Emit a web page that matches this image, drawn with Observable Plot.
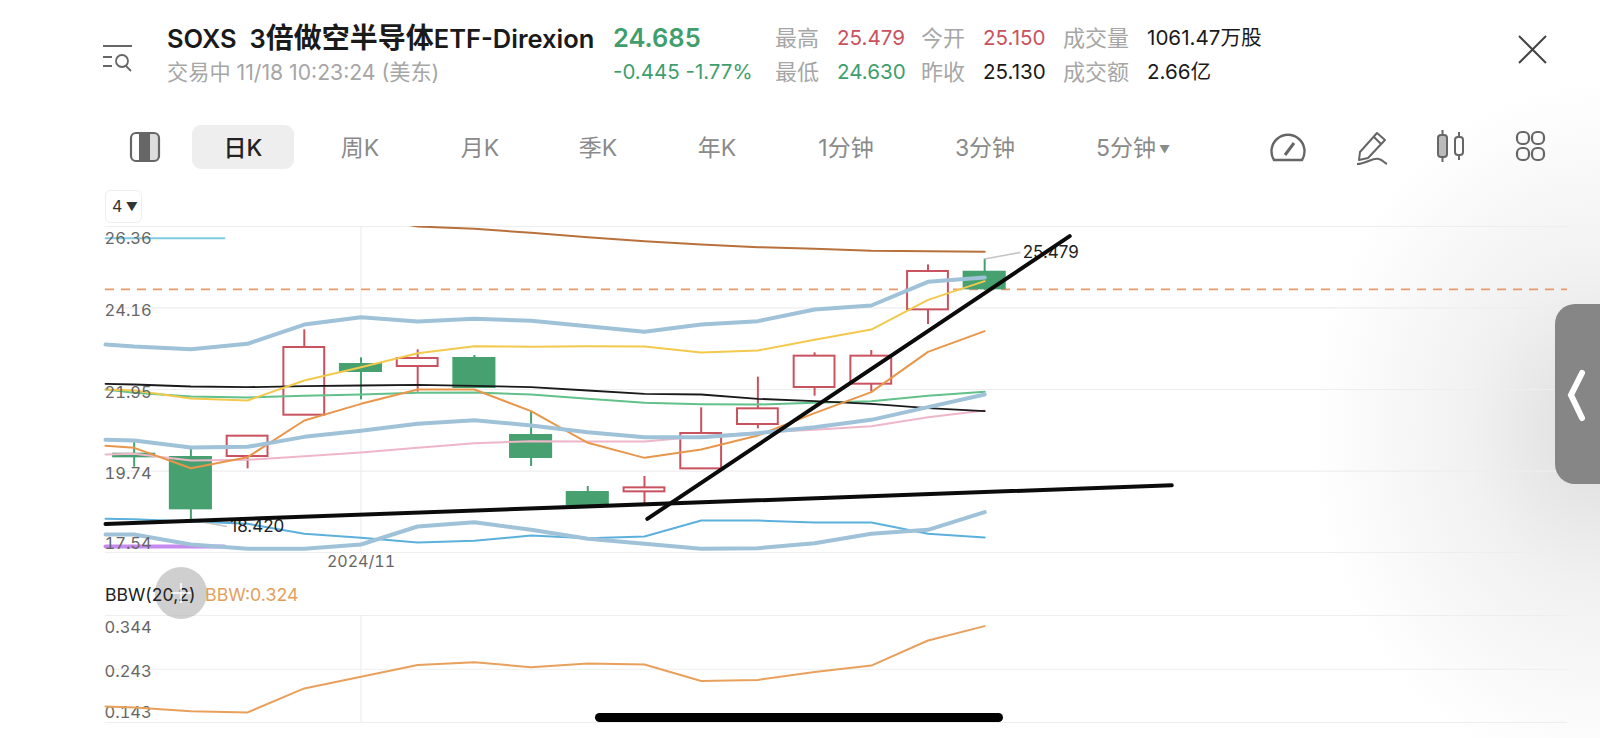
<!DOCTYPE html>
<html lang="zh">
<head>
<meta charset="utf-8">
<script src="https://cdn.jsdelivr.net/npm/d3@7"></script>
<script src="https://cdn.jsdelivr.net/npm/@observablehq/plot@0.6"></script>
<style>
html,body{margin:0;padding:0;background:#fff;width:1600px;height:738px;overflow:hidden;font-family:Inter,"Noto Sans CJK SC",sans-serif}
.t{position:absolute;white-space:pre;line-height:30px}
.g{color:#a6a6a6}.r{color:#c8525f}.n{color:#3f9e6e}.k{color:#1a1a1a}
.lab{font-size:22px}.num{font-size:20.6px}
.tab{position:absolute;top:133px;line-height:30px;font-size:23px;color:#8a8a8a;transform:translateX(-50%);white-space:pre}
svg.abs{position:absolute}
#shade{position:absolute;left:1250px;top:60px;width:350px;height:678px;background:radial-gradient(ellipse 290px 350px at 100% 370px,#dddddd 0%,#f1f1f1 45%,#ffffff 100%)}
#price,#bbw{position:absolute;left:0}
#price{top:200px}#bbw{top:600px}
</style>
</head>
<body>
<div id="shade"></div>

<div class="t k" style="left:167px;top:23px;font-size:25.5px;font-weight:600">SOXS  3<span style="font-size:28px">倍做空半导体</span>ETF-Direxion</div>
<div class="t n" style="left:613px;top:23px;font-size:25.5px;font-weight:600">24.685</div>
<div class="t g" style="left:167px;top:57px;font-size:21.2px">交易中 11/18 10:23:24 (美东)</div>
<div class="t n" style="left:613px;top:57px;font-size:20.5px">-0.445 -1.77%</div>

<div class="t g lab" style="left:775px;top:23px">最高</div>
<div class="t r num" style="left:837px;top:23px">25.479</div>
<div class="t g lab" style="left:921px;top:23px">今开</div>
<div class="t r num" style="left:983px;top:23px">25.150</div>
<div class="t g lab" style="left:1063px;top:23px">成交量</div>
<div class="t k num" style="left:1147px;top:23px">1061.47万股</div>
<div class="t g lab" style="left:775px;top:57px">最低</div>
<div class="t n num" style="left:837px;top:57px">24.630</div>
<div class="t g lab" style="left:921px;top:57px">昨收</div>
<div class="t k num" style="left:983px;top:57px">25.130</div>
<div class="t g lab" style="left:1063px;top:57px">成交额</div>
<div class="t k num" style="left:1147px;top:57px">2.66亿</div>

<div style="position:absolute;left:192px;top:125px;width:102px;height:44px;border-radius:9px;background:#eeeeee"></div>
<div class="tab" style="left:243px;color:#222;font-weight:500">日K</div>
<div class="tab" style="left:360px">周K</div>
<div class="tab" style="left:480px">月K</div>
<div class="tab" style="left:598px">季K</div>
<div class="tab" style="left:717px">年K</div>
<div class="tab" style="left:846px">1分钟</div>
<div class="tab" style="left:985px">3分钟</div>
<div class="tab" style="left:1133px">5分钟<span style="font-size:11px;vertical-align:3px"> ▼</span></div>

<svg class="abs" style="left:100px;top:40px" width="36" height="36" fill="none" stroke="#666" stroke-width="1.8"><path d="M3 6H32M3 17H12M3 26H12"/><circle cx="22" cy="21" r="6"/><path d="M26 26L31 31"/></svg>
<svg class="abs" style="left:128px;top:130px" width="36" height="36"><rect x="3" y="3" width="28" height="28" rx="5" fill="#fff"/><rect x="11" y="3" width="11" height="28" fill="#666"/><rect x="22" y="3" width="8" height="28" fill="#dddddd"/><rect x="3" y="3" width="28" height="28" rx="5" fill="none" stroke="#666" stroke-width="2.2"/></svg>
<svg class="abs" style="left:1514px;top:31px" width="40" height="40" fill="none" stroke="#444" stroke-width="2"><path d="M5 5L32 32M32 5L5 32"/></svg>
<svg class="abs" style="left:1268px;top:130px" width="40" height="34" fill="none" stroke="#666" stroke-width="2.4"><path d="M6 30a16.500 16.500 0 1 1 28 0Z" stroke-linejoin="round"/><path d="M17 25L26 13" stroke-width="3"/></svg>
<svg class="abs" style="left:1354px;top:128px" width="40" height="40" fill="none" stroke="#666" stroke-width="2"><path d="M6 24L23 5L31 12L14 30L5 32Z" stroke-linejoin="round"/><path d="M20 9L27 16M3 36C12 36 19 29 25 31C29 32 30 35 33 36"/></svg>
<svg class="abs" style="left:1434px;top:128px" width="36" height="38" fill="none" stroke="#666" stroke-width="2"><rect x="4" y="7" width="9" height="22" rx="3" fill="#bbb"/><rect x="21" y="9" width="8" height="18" rx="3"/><path d="M8.500 2V7M8.500 29V34M25 4V9M25 27V32"/></svg>
<svg class="abs" style="left:1514px;top:128px" width="36" height="38" fill="none" stroke="#666" stroke-width="2.200"><rect x="3" y="4" width="12" height="12" rx="5"/><rect x="18" y="4" width="12" height="12" rx="5"/><rect x="3" y="20" width="12" height="12" rx="5"/><rect x="18" y="20" width="12" height="12" rx="5"/></svg>

<div id="price"></div>
<div id="bbw"></div>

<div style="position:absolute;left:105px;top:190px;width:37px;height:33px;box-sizing:border-box;border:1px solid #eee;border-radius:6px;background:#fff;font-size:16px;color:#333;line-height:31px;padding-left:6px">4<span style="font-size:12px;vertical-align:1px"> ▼</span></div>
<svg class="abs" style="left:155px;top:567px" width="52" height="52"><circle cx="26" cy="26" r="26" fill="#b5b5b5" fill-opacity=".65"/></svg>
<div class="t k" style="left:105px;top:580px;font-size:17.6px;color:#222">BBW(20,2)</div>
<svg class="abs" style="left:155px;top:567px" width="52" height="52"><path d="M26 16V36M16 26H36" stroke="#fff" stroke-width="1.500"/></svg>
<div class="t" style="left:205px;top:580px;font-size:17.8px;color:#e3a05c">BBW:0.324</div>

<div style="position:absolute;left:1555px;top:304px;width:45px;height:180px;background:#868686;border-radius:20px 0 0 20px"></div>
<svg class="abs" style="left:1565px;top:368px" width="28" height="56" fill="none" stroke="#fff" stroke-width="6" stroke-linecap="round"><path d="M17 5L6 27L17 50"/></svg>
<div style="position:absolute;left:595px;top:713px;width:408px;height:9px;border-radius:5px;background:#000"></div>

<script>
// ---- candle data ----
const candleIndex = [0,1,2,3,4,5,6,7,8,9,10,11,12,13,14,15];
const opens  = [20.227,20.137,20.137,21.255,22.653,22.572,22.816,20.732,19.190,19.181,19.803,21.003,22.004,22.094,24.105,25.150];
const closes = [20.101,18.694,20.687,23.086,22.410,22.789,21.977,20.083,18.811,19.289,20.759,21.427,22.852,22.852,25.143,24.646];
const highs  = [20.525,20.344,20.687,23.564,22.807,23.023,22.870,21.337,19.325,19.596,21.454,22.284,22.942,23.005,25.323,25.479];
const lows   = [19.848,18.420,19.803,21.255,21.670,21.878,21.977,19.866,18.811,18.857,19.803,20.886,21.770,21.878,23.709,24.630];

// ---- overlay series: first value sits at the chart's left edge, the rest on candles ----
const overlayIndex = [-0.506,0,1,2,3,4,5,6,7,8,9,10,11,12,13,14,15];
const bollUpper = [23.167,23.113,23.041,23.185,23.708,23.907,23.790,23.862,23.808,23.663,23.510,23.709,23.799,24.114,24.223,24.863,24.980];
const bollMid   = [20.588,20.570,20.381,20.399,20.669,20.831,21.021,21.120,20.976,20.796,20.660,20.660,20.768,20.931,21.129,21.472,21.815];
const bollLower = [18.027,18.027,17.756,17.639,17.639,17.756,18.243,18.360,18.153,17.910,17.774,17.639,17.657,17.792,18.045,18.153,18.631];
const maYellow  = [21.950,21.923,21.706,21.652,22.193,22.554,22.933,23.122,23.104,23.122,23.113,22.951,23.005,23.294,23.573,24.376,24.881];
const maOrange  = [20.426,20.372,19.821,20.119,21.111,21.562,21.950,21.950,21.364,20.507,20.101,20.327,20.705,21.310,21.878,22.969,23.528];
const maBlack   = [22.103,22.085,22.031,22.013,22.040,22.058,22.076,22.049,22.013,21.923,21.833,21.815,21.697,21.634,21.562,21.445,21.364];
const maGreen   = [21.950,21.860,21.760,21.733,21.778,21.815,21.860,21.869,21.815,21.697,21.589,21.553,21.544,21.589,21.634,21.779,21.887];
const maPink    = [20.191,20.209,20.029,20.047,20.146,20.245,20.372,20.498,20.552,20.543,20.543,20.678,20.787,20.859,20.958,21.201,21.382];
const maBlue    = [18.451,18.442,18.378,18.315,18.045,17.936,17.810,17.855,18.000,17.928,17.973,18.406,18.406,18.351,18.351,18.045,17.946];
const brownIndex = [4,5,6,7,8,9,10,11,12,13,14,15];
const maBrown   = [26.620,26.360,26.297,26.189,26.071,25.963,25.873,25.801,25.756,25.702,25.693,25.675];

// ---- hand-drawn trend lines, short stubs ----
const trendSteepX = [9.05,16.50];
const trendSteepY = [18.449,26.098];
const trendFlatX  = [-0.506,18.30];
const trendFlatY  = [18.311,19.360];
const stubX = [-0.506,1.59];
const stubCyan = [26.044,26.044];
const stubPurple = [17.702,17.702];

const priceTicks = [26.36,24.16,21.95,19.74,17.54];
const lastPrice = 24.66;
const monthIndex = [4];
const monthLabels = ["2024/11"];

// ---- callouts ----
const highLabel = {x:15.67,y:25.665,text:"25.479",fromX:15,fromY:25.479,toX:15.63,toY:25.66};
const lowLabel  = {x:1.695,y:18.243,text:"18.420",fromX:1,fromY:18.42,toX:1.64,toY:18.243};

// ---- BBW panel ----
const bbwValues = [0.173,0.171,0.164,0.162,0.207,0.229,0.251,0.256,0.247,0.254,0.252,0.221,0.223,0.238,0.250,0.297,0.324];
const bbwTicks = [0.344,0.243,0.143];

const RED = "#c9525f", GREEN = "#47a06f", GRID = "#eeeeee", AXIS = "#666666";
const FONT = 'Inter,"Noto Sans CJK SC",sans-serif';
const xScale = {domain:[-0.506,25.279], range:[105,1567], axis:null};
const candles = candleIndex.map((i)=>({i,o:opens[i],c:closes[i],h:highs[i],l:lows[i],up:closes[i]>opens[i]}));
const up = candles.filter(d=>d.up), down = candles.filter(d=>!d.up);
const over = (values,opts) => Plot.line(values,{x:(d,i)=>overlayIndex[i],y:d=>d,curve:"linear",...opts});
const seg = (xs,ys,opts) => Plot.line(xs.map((x,k)=>({x,y:ys[k]})),{x:"x",y:"y",...opts});
const yAxis = (ticks,dy,fmt) => Plot.axisY({ticks,tickSize:0,tickPadding:0,textAnchor:"start",anchor:"left",dy,dx:-1,label:null,fill:AXIS,fontSize:16.5,tickFormat:fmt});

const price = Plot.plot({
  width:1600, height:380, marginLeft:105, marginRight:33, marginTop:26, marginBottom:28,
  style:{background:"transparent",fontFamily:FONT,fontSize:"16px"},
  x:xScale,
  y:{domain:[17.54,26.36],range:[352,26],label:null},
  marks:[
    Plot.ruleY(priceTicks,{stroke:GRID,strokeWidth:1.2}),
    Plot.ruleX(monthIndex,{stroke:GRID,strokeWidth:1.2}),
    Plot.axisX({ticks:monthIndex,tickSize:0,tickPadding:3,anchor:"bottom",label:null,fill:AXIS,fontSize:16,tickFormat:(d)=>monthLabels[monthIndex.indexOf(d)]}),
    Plot.ruleY([lastPrice],{stroke:"#e89a6c",strokeWidth:1.6,strokeDasharray:"9 7"}),
    Plot.ruleX(up,{x:"i",y1:"l",y2:"h",stroke:RED,strokeWidth:2}),
    Plot.ruleX(down,{x:"i",y1:"l",y2:"h",stroke:GREEN,strokeWidth:2}),
    Plot.rect(up,{x1:d=>d.i-0.36,x2:d=>d.i+0.36,y1:"o",y2:"c",fill:"#fff",stroke:RED,strokeWidth:2}),
    Plot.rect(down,{x1:d=>d.i-0.38,x2:d=>d.i+0.38,y1:"o",y2:"c",fill:GREEN}),
    seg(stubX,stubCyan,{stroke:"#7ccbe0",strokeWidth:2}),
    seg(stubX,stubPurple,{stroke:"#c58bee",strokeWidth:4}),
    over(maPink,{stroke:"#eeb6c8",strokeWidth:2}),
    over(maGreen,{stroke:"#62c08a",strokeWidth:2}),
    over(maBlack,{stroke:"#1a1a1a",strokeWidth:1.8}),
    over(maBlue,{stroke:"#5cb0dc",strokeWidth:2}),
    over(maOrange,{stroke:"#e8964a",strokeWidth:2}),
    over(maYellow,{stroke:"#f2c94c",strokeWidth:2}),
    over(bollUpper,{stroke:"#9fc2d8",strokeWidth:4}),
    over(bollMid,{stroke:"#9fc2d8",strokeWidth:4}),
    over(bollLower,{stroke:"#9fc2d8",strokeWidth:4}),
    Plot.line(maBrown,{x:(d,i)=>brownIndex[i],y:d=>d,stroke:"#b8703c",strokeWidth:2,clip:true}),
    Plot.link([highLabel,lowLabel],{x1:"fromX",y1:"fromY",x2:"toX",y2:"toY",stroke:"#c4c4c4",strokeWidth:1.6}),
    yAxis([26.36],12,d=>d.toFixed(2)),
    yAxis([24.16,21.95,19.74],3,d=>d.toFixed(2)),
    yAxis([17.54],-9,d=>d.toFixed(2)),
    Plot.text([highLabel,lowLabel],{x:"x",y:"y",text:"text",textAnchor:"start",fill:"#222",fontSize:17}),
    seg(trendFlatX,trendFlatY,{stroke:"#0b0b0b",strokeWidth:4}),
    seg(trendSteepX,trendSteepY,{stroke:"#0b0b0b",strokeWidth:4})
  ]
});
document.getElementById("price").appendChild(price);

const bbw = Plot.plot({
  width:1600, height:130, marginLeft:105, marginRight:33, marginTop:15, marginBottom:8,
  style:{background:"transparent",fontFamily:FONT,fontSize:"16px"},
  x:xScale,
  y:{domain:[0.143,0.344],range:[122,15],label:null},
  marks:[
    Plot.ruleY(bbwTicks,{stroke:GRID,strokeWidth:1.2}),
    Plot.ruleX(monthIndex,{stroke:GRID,strokeWidth:1.2}),
    yAxis([0.344],12,d=>d.toFixed(3)),
    yAxis([0.243],2,d=>d.toFixed(3)),
    yAxis([0.143],-10,d=>d.toFixed(3)),
    over(bbwValues,{stroke:"#e8a05c",strokeWidth:2})
  ]
});
document.getElementById("bbw").appendChild(bbw);
</script>
</body>
</html>
